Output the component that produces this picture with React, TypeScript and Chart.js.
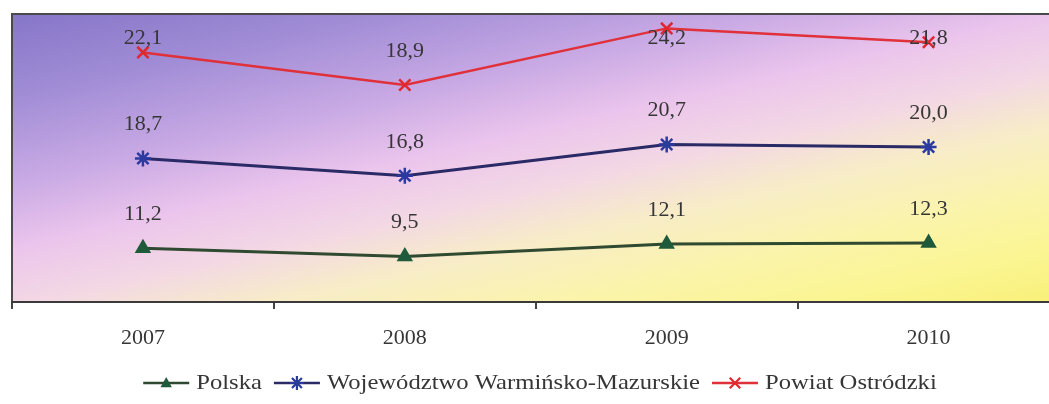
import React, { useEffect, useRef } from "react";
import { Chart, registerables } from "chart.js";

Chart.register(...registerables);

const categories = ["2007", "2008", "2009", "2010"];
const polska = [11.2, 9.5, 12.1, 12.3];
const wojewodztwo = [18.7, 16.8, 20.7, 20.0];
const powiat = [22.1, 18.9, 24.2, 21.8];
const seriesNames = ["Polska", "Województwo Warmińsko-Mazurskie", "Powiat Ostródzki"];
const yMax = 60;

const FONT = "'Liberation Serif', 'Times New Roman', serif";
const TEXT = "#363636";

const lineColors = ["#2f4a30", "#2a2a66", "#e0303a"];
const markerColors = ["#1f5a3a", "#2a3aa0", "#e02830"];
const markerStyles = ["triangle", "star", "crossRot"];

function fmt(v: number) {
  return v.toFixed(1).replace(".", ",");
}

function drawMarker(ctx: CanvasRenderingContext2D, style: string, x: number, y: number, r: number, color: string) {
  ctx.save();
  ctx.strokeStyle = color;
  ctx.fillStyle = color;
  ctx.lineWidth = 2.2;
  ctx.beginPath();
  if (style === "triangle") {
    ctx.moveTo(x, y - r);
    ctx.lineTo(x + r * 0.95, y + r * 0.7);
    ctx.lineTo(x - r * 0.95, y + r * 0.7);
    ctx.closePath();
    ctx.fill();
  } else if (style === "star") {
    for (let k = 0; k < 4; k++) {
      const a = (k * Math.PI) / 4;
      ctx.moveTo(x - r * Math.cos(a), y - r * Math.sin(a));
      ctx.lineTo(x + r * Math.cos(a), y + r * Math.sin(a));
    }
    ctx.stroke();
  } else {
    const d = r * 0.75;
    ctx.moveTo(x - d, y - d);
    ctx.lineTo(x + d, y + d);
    ctx.moveTo(x + d, y - d);
    ctx.lineTo(x - d, y + d);
    ctx.stroke();
  }
  ctx.restore();
}

const backgroundPlugin = {
  id: "bgFrame",
  beforeDraw(chart: any) {
    const { ctx, chartArea } = chart;
    const { left, top, right, bottom } = chartArea;
    const w = right - left;
    const h = bottom - top;
    ctx.save();
    ctx.translate(left, top);
    ctx.scale(w, h);
    const g = ctx.createLinearGradient(0, 0, 0.891, 1.089);
    g.addColorStop(0, "#8676c8");
    g.addColorStop(0.16, "#a18dd6");
    g.addColorStop(0.32, "#c8a9e4");
    g.addColorStop(0.45, "#ebc5ec");
    g.addColorStop(0.56, "#f3d8e4");
    g.addColorStop(0.66, "#f7ecc8");
    g.addColorStop(0.78, "#faf4ac");
    g.addColorStop(0.9, "#fbf592");
    g.addColorStop(1, "#f8f078");
    ctx.fillStyle = g;
    ctx.fillRect(0, 0, 1, 1);
    ctx.restore();
    ctx.save();
    ctx.strokeStyle = "#4a4a4a";
    ctx.lineWidth = 2;
    ctx.beginPath();
    ctx.moveTo(left, bottom);
    ctx.lineTo(left, top);
    ctx.lineTo(right, top);
    ctx.stroke();
    ctx.restore();
  },
};

const valueLabelPlugin = {
  id: "valueLabels",
  afterDatasetsDraw(chart: any) {
    const { ctx, chartArea } = chart;
    ctx.save();
    ctx.font = `22px ${FONT}`;
    ctx.fillStyle = TEXT;
    ctx.textAlign = "center";
    ctx.textBaseline = "middle";
    chart.data.datasets.forEach((ds: any, i: number) => {
      const meta = chart.getDatasetMeta(i);
      meta.data.forEach((pt: any, j: number) => {
        const y = Math.max(pt.y - 34, chartArea.top + 24);
        ctx.fillText(fmt(ds.data[j]), pt.x, y);
      });
    });
    ctx.restore();
  },
};

const legendPlugin = {
  id: "customLegend",
  afterDraw(chart: any) {
    const { ctx } = chart;
    const sx = 1.12;
    const lineLen = 46;
    const gapText = 7;
    const gapItem = 12;
    const cy = 383;
    ctx.save();
    ctx.font = `22px ${FONT}`;
    const widths = seriesNames.map((n) => ctx.measureText(n).width * sx);
    const total = widths.reduce((a, b) => a + b, 0) + seriesNames.length * (lineLen + gapText) + (seriesNames.length - 1) * gapItem;
    let x = 540 - total / 2;
    seriesNames.forEach((name, i) => {
      ctx.strokeStyle = lineColors[i];
      ctx.lineWidth = 2.5;
      ctx.beginPath();
      ctx.moveTo(x, cy);
      ctx.lineTo(x + lineLen, cy);
      ctx.stroke();
      drawMarker(ctx, markerStyles[i], x + lineLen / 2, cy, i === 0 ? 6 : 7, markerColors[i]);
      x += lineLen + gapText;
      ctx.save();
      ctx.translate(x, cy);
      ctx.scale(sx, 1);
      ctx.fillStyle = TEXT;
      ctx.textAlign = "left";
      ctx.textBaseline = "middle";
      ctx.fillText(name, 0, 0);
      ctx.restore();
      x += widths[i] + gapItem;
    });
    ctx.restore();
  },
};

export default function App() {
  const ref = useRef<HTMLCanvasElement | null>(null);
  useEffect(() => {
    if (!ref.current) return;
    const series = [polska, wojewodztwo, powiat];
    const chart = new Chart(ref.current, {
      type: "line",
      data: {
        labels: categories,
        datasets: series.map((d, i) => ({
          label: seriesNames[i],
          data: d,
          borderColor: lineColors[i],
          borderWidth: i === 2 ? 2.5 : 3,
          pointStyle: markerStyles[i] as any,
          pointRadius: i === 0 ? 7 : 8,
          pointBorderWidth: 2.5,
          pointBackgroundColor: markerColors[i],
          pointBorderColor: markerColors[i],
          tension: 0,
          fill: false,
        })),
      },
      options: {
        animation: false,
        responsive: false,
        events: [],
        layout: { padding: { left: 12, top: 14, right: 9, bottom: 0 } },
        plugins: { legend: { display: false }, tooltip: { enabled: false } },
        scales: {
          x: {
            offset: true,
            grid: {
              display: true,
              drawOnChartArea: false,
              drawTicks: true,
              tickLength: 7,
              offset: true,
              color: "#444",
              lineWidth: 2,
            },
            border: { display: true, color: "#3a3a3a", width: 2 },
            ticks: {
              color: TEXT,
              font: { family: FONT, size: 22 },
              padding: 16,
              maxRotation: 0,
            },
            afterFit: (scale: any) => {
              scale.height = 102;
            },
          },
          y: {
            display: false,
            stacked: true,
            min: 0,
            max: yMax,
          },
        },
      },
      plugins: [backgroundPlugin, valueLabelPlugin, legendPlugin],
    });
    return () => chart.destroy();
  }, []);
  return (
    <div style={{ position: "fixed", left: 0, top: 0, width: 1049, height: 404, overflow: "hidden", background: "#fff" }}>
      <canvas ref={ref} width={1070} height={404} style={{ display: "block" }} />
    </div>
  );
}
